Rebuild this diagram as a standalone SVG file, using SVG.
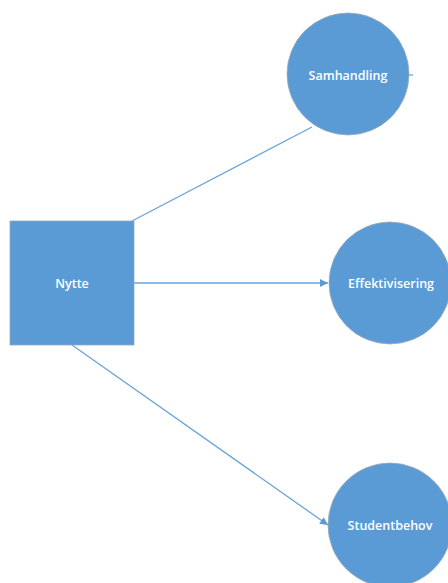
<svg xmlns="http://www.w3.org/2000/svg" width="448" height="583" viewBox="0 0 448 583">
<style>
.node{fill:#5B9BD5;stroke:#9aa9b8;stroke-width:0.8}
.lbl{fill:#ffffff;font-family:"Open Sans","Liberation Sans",sans-serif;font-size:12.5px;font-weight:600;text-anchor:middle;dominant-baseline:central}
.edge{stroke:#6AA4D9;stroke-width:1.3;fill:none}
</style>
<defs>
<marker id="arr" viewBox="0 0 10 10" refX="10" refY="5" markerWidth="10" markerHeight="8" markerUnits="userSpaceOnUse" orient="auto">
<path d="M0,0 L10,5 L0,10 z" fill="#5B9BD5"/>
</marker>
</defs>
<rect width="448" height="583" fill="#ffffff"/>
<g id="connectors">
<line class="edge" x1="132" y1="221" x2="312" y2="127"/>
<line class="edge" x1="134" y1="283" x2="328" y2="283" marker-end="url(#arr)"/>
<line class="edge" x1="72" y1="345" x2="328" y2="525" marker-end="url(#arr)"/>
<line class="edge" x1="409" y1="75" x2="413" y2="75"/>
</g>
<g id="nytte">
<rect class="node" x="10" y="221" width="124" height="124"/>
<text class="lbl" x="72" y="283">Nytte</text>
</g>
<g id="samhandling">
<circle class="node" cx="348" cy="74" r="61"/>
<text class="lbl" x="348" y="75">Samhandling</text>
</g>
<g id="effektivisering">
<circle class="node" cx="390" cy="283" r="61"/>
<text class="lbl" x="391" y="283">Effektivisering</text>
</g>
<g id="studentbehov">
<circle class="node" cx="390" cy="525" r="62"/>
<text class="lbl" x="390" y="525">Studentbehov</text>
</g>
</svg>
